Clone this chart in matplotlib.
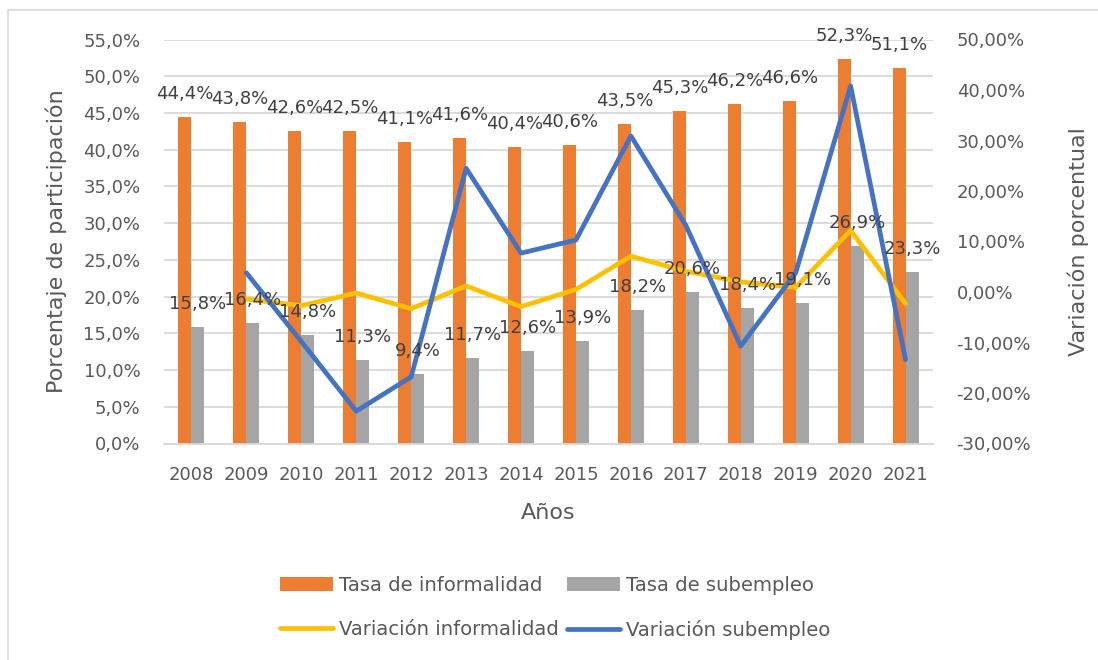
import numpy as np
import matplotlib
matplotlib.use('Agg')
import matplotlib.pyplot as plt
from matplotlib.ticker import FuncFormatter, MultipleLocator
from matplotlib.patches import Rectangle

plt.rcParams['font.family'] = ['DejaVu Sans']

# Data
years = ['2008', '2009', '2010', '2011', '2012', '2013', '2014',
         '2015', '2016', '2017', '2018', '2019', '2020', '2021']
tasa_informalidad = [44.4, 43.8, 42.6, 42.5, 41.1, 41.6, 40.4,
                     40.6, 43.5, 45.3, 46.2, 46.6, 52.3, 51.1]
tasa_subempleo = [15.8, 16.4, 14.8, 11.3, 9.4, 11.7, 12.6,
                  13.9, 18.2, 20.6, 18.4, 19.1, 26.9, 23.3]
# variations start in 2009
var_years = years[1:]
var_informalidad = [-1.4, -2.7, -0.2, -3.3, 1.2, -2.9, 0.5,
                    7.1, 4.1, 2.0, 0.9, 12.2, -2.3]
var_subempleo = [3.8, -9.8, -23.6, -16.8, 24.5, 7.7, 10.3,
                 30.9, 13.2, -10.7, 3.8, 40.8, -13.4]

ORANGE = '#ED7D31'
GRAY = '#A5A5A5'
YELLOW = '#FFC000'
BLUE = '#4472C4'
TXT = '#595959'
GRID = '#D9D9D9'

fig = plt.figure(figsize=(10.98, 6.6), dpi=100)
ax = fig.add_axes([164 / 1098, 1 - 443.5 / 660, (933 - 164) / 1098, 404 / 660])
ax2 = ax.twinx()

x = np.arange(len(years))
xv = np.arange(1, len(years))
w = 0.237

b1 = ax.bar(x - w / 2, tasa_informalidad, w, color=ORANGE, zorder=2,
            label='Tasa de informalidad')
b2 = ax.bar(x + w / 2, tasa_subempleo, w, color=GRAY, zorder=2,
            label='Tasa de subempleo')

l1, = ax2.plot(xv, var_informalidad, color=YELLOW, lw=3.4,
               solid_joinstyle='round', solid_capstyle='round',
               label='Variación informalidad')
l2, = ax2.plot(xv, var_subempleo, color=BLUE, lw=3.4,
               solid_joinstyle='round', solid_capstyle='round',
               label='Variación subempleo')

def pct1(v):
    return f'{v:.1f}%'.replace('.', ',')

# data labels, drawn on ax2 so they sit above the lines
for xi, v in zip(x - w / 2, tasa_informalidad):
    ax2.annotate(pct1(v), xy=(xi, v), xycoords=ax.transData,
                 xytext=(0, 13), textcoords='offset points',
                 ha='center', va='baseline', fontsize=13, color='#404040')
for xi, v in zip(x + w / 2, tasa_subempleo):
    ax2.annotate(pct1(v), xy=(xi, v), xycoords=ax.transData,
                 xytext=(0, 13), textcoords='offset points',
                 ha='center', va='baseline', fontsize=13, color='#404040')

ax.set_xlim(-0.5, len(years) - 0.5)
ax.set_ylim(0, 55)
ax2.set_ylim(-30, 50)
ax.yaxis.set_major_locator(MultipleLocator(5))
ax2.yaxis.set_major_locator(MultipleLocator(10))
ax.yaxis.set_major_formatter(FuncFormatter(lambda v, p: pct1(v)))
ax2.yaxis.set_major_formatter(FuncFormatter(lambda v, p: f'{v:.2f}%'.replace('.', ',')))
ax.set_xticks(x)
ax.set_xticklabels(years)

ax.grid(axis='y', color=GRID, lw=1.3, zorder=0)
ax.set_axisbelow(True)
for a in (ax, ax2):
    for s in a.spines.values():
        s.set_visible(False)
ax.spines['bottom'].set_visible(True)
ax.spines['bottom'].set_color(GRID)
ax.spines['bottom'].set_linewidth(1.3)

ax.tick_params(axis='y', length=0, pad=17, labelsize=13, labelcolor=TXT)
ax2.tick_params(axis='y', length=0, pad=17, labelsize=13, labelcolor=TXT)
ax.tick_params(axis='x', length=0, pad=16, labelsize=13, labelcolor=TXT)

ax.set_ylabel('Porcentaje de participación', fontsize=16, color=TXT, labelpad=12)
ax2.set_ylabel('Variación porcentual', fontsize=16, color=TXT, labelpad=26)
ax.set_xlabel('Años', fontsize=16, color=TXT, labelpad=14)

fig.legend(handles=[b1, l1, b2, l2], ncol=2, loc='center',
           bbox_to_anchor=(555 / 1098, 1 - 608 / 660), frameon=False,
           fontsize=14.1, labelcolor=TXT, handlelength=2.7,
           handleheight=0.7, handletextpad=0.3, columnspacing=0.45,
           labelspacing=1.3)

# light border of the chart area (only left and top edges visible)
fig.patches.append(Rectangle((8 / 1098, -0.5), 2, 1.5 - 10 / 660,
                             transform=fig.transFigure, fill=False,
                             edgecolor=GRID, lw=1.2))

fig.savefig('out.png', dpi=100)
